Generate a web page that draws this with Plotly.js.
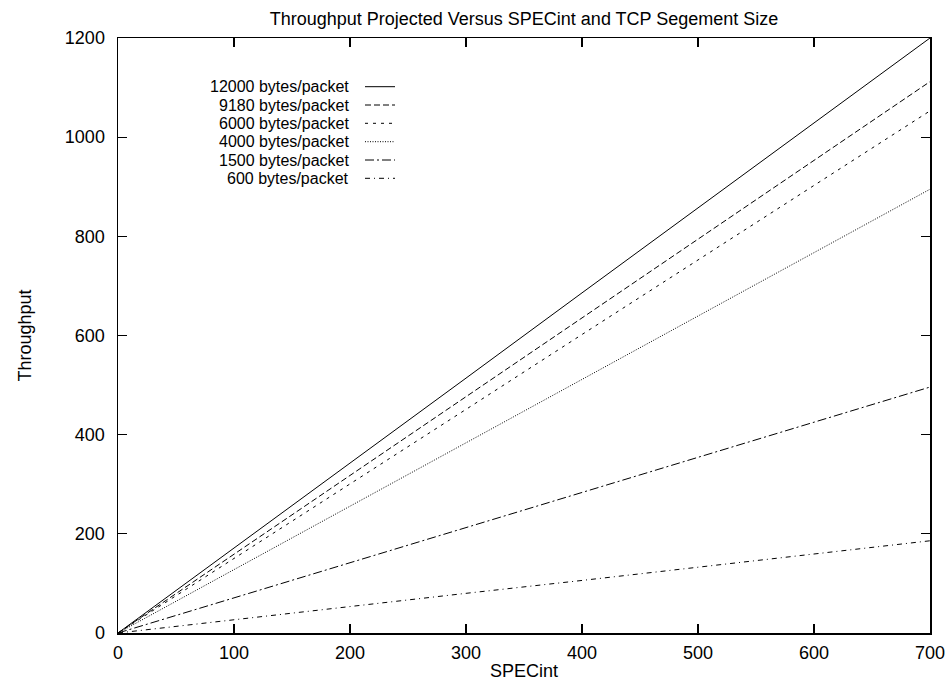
<!DOCTYPE html>
<html>
<head>
<meta charset="utf-8">
<script src="https://cdn.plot.ly/plotly-3.0.1.min.js"></script>
<style>html,body{margin:0;padding:0;background:#fff;}#chart{width:946px;height:682px;}</style>
</head>
<body>
<div id="chart"></div>
<script>
// SPECint values (x)
const specint = [0, 100, 200, 300, 400, 500, 600, 700];
// Throughput per TCP segment size
const seg12000 = [0, 171, 343, 514, 686, 857, 1029, 1200];
const seg9180  = [0, 159, 318, 477, 635, 794, 953, 1112];
const seg6000  = [0, 150, 301, 451, 602, 752, 903, 1053];
const seg4000  = [0, 128, 256, 384, 511, 639, 767, 895];
const seg1500  = [0, 71, 142, 213, 283, 354, 425, 496];
const seg600   = [0, 27, 53, 80, 106, 133, 159, 186];

const seriesNames = ["12000 bytes/packet", "9180 bytes/packet", "6000 bytes/packet",
                     "4000 bytes/packet", "1500 bytes/packet", "600 bytes/packet"];
const seriesData = [seg12000, seg9180, seg6000, seg4000, seg1500, seg600];
const xTicks = [0, 100, 200, 300, 400, 500, 600, 700];
const yTicks = [0, 200, 400, 600, 800, 1000, 1200];

const dashes = ["solid", "6px,3px", "3px,5px", "1px,1.5px", "9px,3px,2px,3px", "5px,4px,1px,4px"];
const FONT = "Liberation Sans, Arial, Helvetica, sans-serif";
const FS = 18;
const LEGFS = 16;

const traces = seriesData.map((ys, i) => ({
  x: specint, y: ys, type: "scatter", mode: "lines", name: seriesNames[i],
  line: {color: "#000", width: 1, dash: dashes[i]}, showlegend: false
}));

// manual gnuplot-style legend: right-aligned text, sample line to the right
const plotTop = 38, plotH = 595, plotL = 118, plotW = 812;
const rowY = [86.7, 105, 123.3, 141.7, 160, 178.3];
const shapes = [], annotations = [];
seriesNames.forEach((n, i) => {
  const py = (plotTop + plotH - rowY[i]) / plotH;
  annotations.push({xref: "paper", yref: "paper", x: (351 - plotL) / plotW, y: py,
    xanchor: "right", yanchor: "middle", text: n, showarrow: false,
    font: {family: FONT, size: LEGFS, color: "#000"}});
  shapes.push({type: "line", xref: "paper", yref: "paper",
    x0: (365 - plotL) / plotW, x1: (395 - plotL) / plotW, y0: py, y1: py,
    line: {color: "#000", width: 1, dash: dashes[i]}});
});

const axisCommon = {
  showline: true, linecolor: "#000", linewidth: 1.5, mirror: "ticks",
  ticks: "inside", ticklen: 9, tickwidth: 1.2, tickcolor: "#000",
  showgrid: false, zeroline: false,
  tickfont: {family: FONT, size: FS, color: "#000"}
};

const layout = {
  width: 946, height: 682,
  margin: {l: 118, r: 16, t: 38, b: 49},
  paper_bgcolor: "#fff", plot_bgcolor: "#fff",
  title: {text: "Throughput Projected Versus SPECint and TCP Segement Size",
    font: {family: FONT, size: FS, color: "#000"}, x: 0.5, xref: "paper", y: 0.972, yanchor: "middle"},
  xaxis: Object.assign({}, axisCommon, {range: [0, 700], tickvals: xTicks, ticklabelstandoff: 3,
    title: {text: "SPECint", font: {family: FONT, size: FS, color: "#000"}, standoff: 2}}),
  yaxis: Object.assign({}, axisCommon, {range: [0, 1200], tickvals: yTicks, ticklabelstandoff: 8,
    title: {text: "Throughput", font: {family: FONT, size: FS, color: "#000"}, standoff: 28}}),
  shapes: shapes, annotations: annotations, showlegend: false
};

Plotly.newPlot("chart", traces, layout, {displayModeBar: false, staticPlot: true});
</script>
</body>
</html>
